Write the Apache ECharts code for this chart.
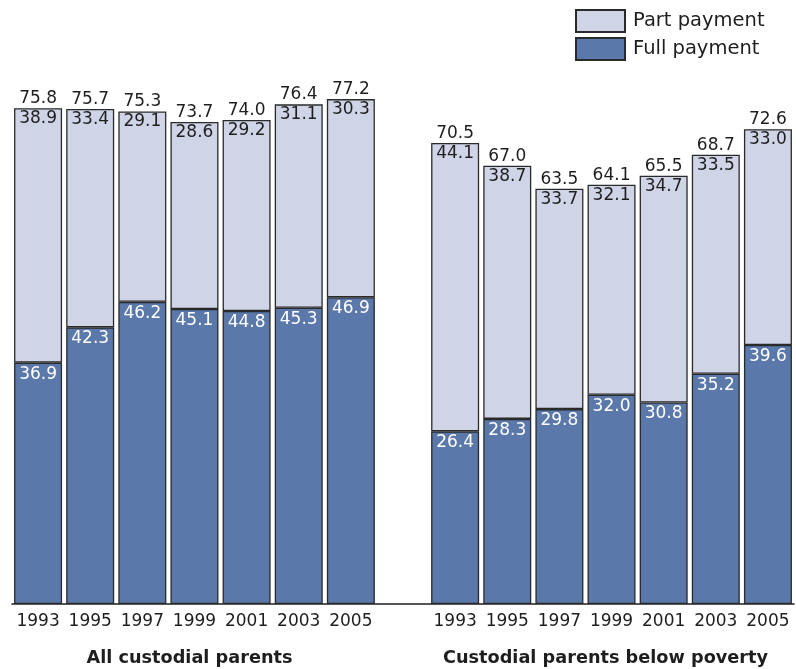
<!DOCTYPE html>
<html>
<head>
<meta charset="utf-8">
<script src="https://cdn.jsdelivr.net/npm/echarts@6/dist/echarts.min.js"></script>
<style>
  html, body { margin: 0; padding: 0; background: #fff; }
  #chart { width: 796px; height: 669px; }
</style>
</head>
<body>
<div id="chart"></div>
<script>
// Child support receipt, percent of custodial parents
const years = ['1993', '1995', '1997', '1999', '2001', '2003', '2005'];

const allFull    = [36.9, 42.3, 46.2, 45.1, 44.8, 45.3, 46.9];
const allPart    = [38.9, 33.4, 29.1, 28.6, 29.2, 31.1, 30.3];
const allTotal   = [75.8, 75.7, 75.3, 73.7, 74.0, 76.4, 77.2];

const povFull    = [26.4, 28.3, 29.8, 32.0, 30.8, 35.2, 39.6];
const povPart    = [44.1, 38.7, 33.7, 32.1, 34.7, 33.5, 33.0];
const povTotal   = [70.5, 67.0, 63.5, 64.1, 65.5, 68.7, 72.6];

const groupTitles = ['All custodial parents', 'Custodial parents below poverty'];

// One category axis: left group, an empty spacer slot, right group
const categories = years.concat([''], years);
const join = (a, b) => a.concat([null], b);

const fullData  = join(allFull, povFull);
const partData  = join(allPart, povPart);
const totalData = join(allTotal, povTotal);

const FONT = 'DejaVu Sans';
const INK = '#1e1e1e';

const chart = echarts.init(document.getElementById('chart'), null, { renderer: 'canvas' });

chart.setOption({
  animation: false,
  backgroundColor: '#ffffff',
  textStyle: { fontFamily: FONT },
  grid: { left: 12, width: 782, top: 80.8, bottom: 65, containLabel: false },
  legend: {
    data: ['Part payment', 'Full payment'],
    orient: 'vertical',
    left: 570,
    top: 4,
    padding: 5,
    itemWidth: 49,
    itemHeight: 22,
    itemGap: 4,
    icon: 'rect',
    textStyle: { fontFamily: FONT, fontSize: 19.5, color: INK, padding: [0, 0, 0, 3] }
  },
  title: [
    {
      text: groupTitles[0],
      left: 184.5, top: 644, textAlign: 'center',
      textStyle: { fontFamily: FONT, fontSize: 17.7, fontWeight: 'bold', color: INK }
    },
    {
      text: groupTitles[1],
      left: 600.5, top: 644, textAlign: 'center',
      textStyle: { fontFamily: FONT, fontSize: 17.7, fontWeight: 'bold', color: INK }
    }
  ],
  xAxis: {
    type: 'category',
    data: categories,
    axisTick: { show: false },
    axisLine: { lineStyle: { color: INK, width: 1.5 } },
    axisLabel: { interval: 0, margin: 9, fontFamily: FONT, fontSize: 17, color: INK }
  },
  yAxis: {
    type: 'value',
    min: 0,
    max: 80,
    show: false,
    splitLine: { show: false }
  },
  series: [
    {
      name: 'Full payment',
      type: 'bar',
      stack: 'pay',
      barWidth: 48,
      data: fullData,
      itemStyle: { color: '#5a78aa', borderColor: '#2a2a2a', borderWidth: 1.3 },
      label: {
        show: true, position: 'insideTop', distance: 3,
        fontFamily: FONT, fontSize: 17, color: '#ffffff',
        formatter: p => p.value.toFixed(1)
      }
    },
    {
      name: 'Part payment',
      type: 'bar',
      stack: 'pay',
      barWidth: 48,
      data: partData,
      itemStyle: { color: '#cfd4e7', borderColor: '#2a2a2a', borderWidth: 1.3 },
      label: {
        show: true, position: 'insideTop', distance: 2,
        fontFamily: FONT, fontSize: 17, color: INK,
        formatter: p => p.value.toFixed(1)
      }
    },
    {
      // Totals written above each stacked column
      name: 'Total',
      type: 'scatter',
      data: totalData,
      symbolSize: 2,
      itemStyle: { color: 'rgba(0,0,0,0)', opacity: 1 },
      silent: true,
      z: 5,
      labelLayout: { hideOverlap: false },
      label: {
        show: true, position: 'top', distance: 0, opacity: 1,
        fontFamily: FONT, fontSize: 17, color: INK,
        formatter: p => p.value.toFixed(1)
      }
    }
  ]
});
</script>
</body>
</html>
